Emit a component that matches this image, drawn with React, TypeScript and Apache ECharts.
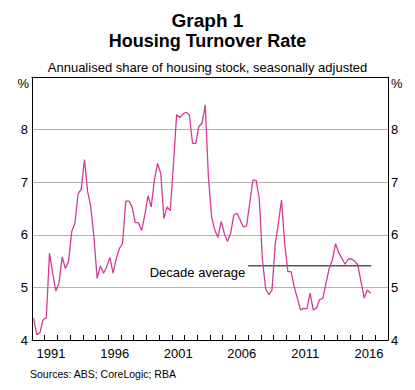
import React, { useEffect, useRef } from 'react';
import * as echarts from 'echarts';

// Quarterly housing turnover rate, 1990 Q1 – 2016 Q3 (per cent)
const startYear = 1990;
const turnoverRate = [
  4.41, 4.10, 4.14, 4.39,
  4.42, 5.65, 5.27, 4.93,
  5.09, 5.58, 5.36, 5.49,
  6.06, 6.22, 6.78, 6.87,
  7.43, 6.82, 6.53, 5.95,
  5.17, 5.41, 5.27, 5.39,
  5.57, 5.27, 5.55, 5.74,
  5.84, 6.64, 6.64, 6.53,
  6.23, 6.23, 6.08, 6.38,
  6.74, 6.53, 7.04, 7.36,
  7.17, 6.31, 6.53, 6.46,
  7.35, 8.28, 8.23, 8.30,
  8.33, 8.28, 7.74, 7.74,
  8.06, 8.12, 8.47, 7.10,
  6.34, 6.09, 5.95, 6.25,
  6.03, 5.87, 6.03, 6.38,
  6.41, 6.28, 6.15, 6.17,
  6.60, 7.04, 7.04, 6.69,
  5.52, 4.98, 4.86, 4.95,
  5.81, 6.22, 6.66, 5.84,
  5.30, 5.30, 5.01, 4.79,
  4.57, 4.60, 4.59, 4.89,
  4.57, 4.61, 4.77, 4.79,
  5.08, 5.36, 5.52, 5.83,
  5.66, 5.55, 5.44, 5.54,
  5.54, 5.50, 5.43, 5.11,
  4.80, 4.95, 4.89,
];

const decadeAverage = 5.41;
const decadeStart = 2007.0;
const decadeEnd = 2016.7;
const xLabelYears = [1991, 1996, 2001, 2006, 2011, 2016];
const xMin = 1990;
const xMax = 2018;
const yMin = 4;
const yMax = 9;

export default function App() {
  const ref = useRef<HTMLDivElement>(null);

  useEffect(() => {
    const chart = echarts.init(ref.current!, null, { renderer: 'svg' });
    const font = "'Liberation Sans', Arial, Helvetica, sans-serif";
    const lineData = turnoverRate.map((v, i) => [startYear + (i + 0.5) / 4, v]);

    const yLabel = (margin: number) => ({
      margin,
      fontSize: 13,
      color: '#000',
      fontFamily: font,
      formatter: (v: number) => (v >= yMax ? '' : String(v)),
    });

    chart.setOption({
      animation: false,
      backgroundColor: '#fff',
      title: [
        {
          text: 'Graph 1', left: 'center', top: 11, padding: 0,
          textStyle: { fontSize: 19, fontWeight: 'bold', color: '#000', fontFamily: font },
        },
        {
          text: 'Housing Turnover Rate', left: 'center', top: 32, padding: 0,
          textStyle: { fontSize: 18, fontWeight: 'bold', color: '#000', fontFamily: font },
        },
        {
          text: 'Annualised share of housing stock, seasonally adjusted', left: 'center', top: 61, padding: 0,
          textStyle: { fontSize: 13, fontWeight: 'normal', color: '#000', fontFamily: font },
        },
      ],
      grid: { left: 32, right: 27, top: 77, bottom: 50, containLabel: false },
      xAxis: [
        {
          type: 'value', min: xMin, max: xMax, interval: 1, position: 'bottom',
          axisLine: { show: true, onZero: false, lineStyle: { color: '#000', width: 1 } },
          axisTick: { show: true, inside: true, length: 5, lineStyle: { color: '#000', width: 1 } },
          axisLabel: { show: false },
          splitLine: { show: false },
        },
        {
          type: 'value', min: xMin, max: xMax, interval: 0.5, position: 'bottom',
          axisLine: { show: false },
          axisTick: { show: false },
          splitLine: { show: false },
          axisLabel: {
            margin: 7, fontSize: 13, color: '#000', fontFamily: font,
            showMinLabel: true, showMaxLabel: true,
            formatter: (v: number) => {
              const y = Math.floor(v);
              return Math.abs(v - y - 0.5) < 1e-6 && xLabelYears.includes(y) ? String(y) : '';
            },
          },
        },
        {
          type: 'value', min: xMin, max: xMax, position: 'top',
          axisLine: { show: true, onZero: false, lineStyle: { color: '#000', width: 1 } },
          axisTick: { show: false },
          axisLabel: { show: false },
          splitLine: { show: false },
        },
      ],
      yAxis: [
        {
          type: 'value', min: yMin, max: yMax, interval: 1, position: 'left',
          axisLine: { show: true, onZero: false, lineStyle: { color: '#000', width: 1 } },
          axisTick: { show: false },
          splitLine: { show: true, lineStyle: { color: '#b8b2b2', width: 1 } },
          axisLabel: yLabel(4),
        },
        {
          type: 'value', min: yMin, max: yMax, interval: 1, position: 'right',
          axisLine: { show: true, onZero: false, lineStyle: { color: '#000', width: 1 } },
          axisTick: { show: false },
          splitLine: { show: false },
          axisLabel: yLabel(3),
        },
      ],
      series: [
        {
          name: 'Decade average',
          type: 'line',
          xAxisIndex: 0,
          yAxisIndex: 0,
          symbol: 'circle',
          symbolSize: 0,
          showSymbol: true,
          silent: true,
          lineStyle: { color: '#000', width: 1 },
          itemStyle: { color: '#000' },
          z: 2,
          data: [
            {
              value: [decadeStart, decadeAverage],
              label: {
                show: true, position: 'left', distance: 3, offset: [0, 7],
                formatter: 'Decade average', fontSize: 13, color: '#000', fontFamily: font,
              },
            },
            { value: [decadeEnd, decadeAverage] },
          ],
        },
        {
          name: 'Turnover rate',
          type: 'line',
          xAxisIndex: 0,
          yAxisIndex: 0,
          symbol: 'none',
          showSymbol: false,
          lineStyle: { color: '#d23c96', width: 1.3 },
          z: 3,
          data: lineData,
        },
      ],
      graphic: [
        {
          type: 'text', x: 29, y: 83,
          style: { text: '%', fontSize: 13, fontFamily: font, fill: '#000', align: 'right', verticalAlign: 'middle' },
        },
        {
          type: 'text', x: 391, y: 83,
          style: { text: '%', fontSize: 13, fontFamily: font, fill: '#000', align: 'left', verticalAlign: 'middle' },
        },
        {
          type: 'text', x: 30, y: 374,
          style: { text: 'Sources: ABS; CoreLogic; RBA', fontSize: 10.5, fontFamily: font, fill: '#000', align: 'left', verticalAlign: 'middle' },
        },
      ],
    });

    return () => chart.dispose();
  }, []);

  return (
    <div
      ref={ref}
      style={{ position: 'fixed', left: 0, top: 0, width: 415, height: 390, background: '#fff' }}
    />
  );
}
